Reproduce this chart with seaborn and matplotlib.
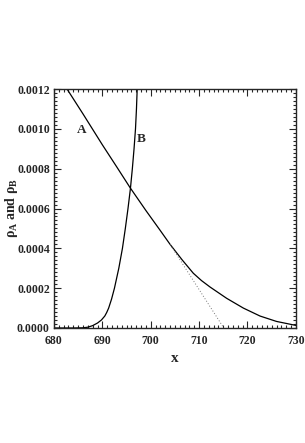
import numpy as np
import pandas as pd
import matplotlib
matplotlib.use("Agg")
import matplotlib.pyplot as plt
from matplotlib.ticker import MultipleLocator, FormatStrFormatter
import seaborn as sns

# curve A
a_x = [682.7, 686, 690, 693, 695.7, 699, 701.9, 704, 706.5, 708.8, 710.5, 712.25,
       715.7, 719.15, 722.6, 726, 730]
a_y = [0.0012, 0.001075, 0.00092, 0.000808, 0.000706, 0.000590, 0.000492, 0.00042, 0.000342,
       0.000275, 0.000238, 0.000206, 0.000149, 0.0001, 0.00006, 0.000033, 0.000013]

# curve B
b_x = [680, 684, 686, 687, 688, 689, 689.8, 690.5, 690.9, 691.3, 691.9, 692.5, 693.4,
       694.15, 694.75, 695.3, 695.8, 696.2, 696.55, 696.85, 697.05, 697.2]
b_y = [0.0, 0.0, 0.000001, 0.000004, 0.000012, 0.000025, 0.00004, 0.00006, 0.000078,
       0.0001, 0.000145, 0.0002, 0.0003, 0.0004, 0.0005, 0.0006, 0.0007, 0.0008,
       0.0009, 0.0010, 0.0011, 0.0012]

# dotted tangent to A
t_x = [704, 715.1]
t_y = [0.00042, 0.0]

sns.set_style("ticks")
plt.rcParams['font.family'] = ['Liberation Serif', 'DejaVu Serif']
plt.rcParams['mathtext.fontset'] = 'custom'
plt.rcParams['mathtext.rm'] = 'Liberation Serif:bold'
plt.rcParams['mathtext.it'] = 'Liberation Serif:bold'
plt.rcParams['mathtext.bf'] = 'Liberation Serif:bold'

fig = plt.figure(figsize=(3.05, 4.43), dpi=100)
ax = fig.add_axes([0.177, 0.2596, 0.793, 0.5394])

dfa = pd.DataFrame({"x": a_x, "y": a_y})
dfb = pd.DataFrame({"x": b_x, "y": b_y})
dft = pd.DataFrame({"x": t_x, "y": t_y})
sns.lineplot(data=dfa, x="x", y="y", ax=ax, color="black", lw=0.9, sort=False)
sns.lineplot(data=dfb, x="x", y="y", ax=ax, color="black", lw=0.9, sort=False)
sns.lineplot(data=dft, x="x", y="y", ax=ax, color="#777777", lw=0.7, linestyle=(0, (1, 2)), sort=False)

ax.set_xlim(680, 730)
ax.set_ylim(0, 0.0012)
ax.xaxis.set_major_locator(MultipleLocator(10))
ax.xaxis.set_minor_locator(MultipleLocator(1))
ax.yaxis.set_major_locator(MultipleLocator(0.0002))
ax.yaxis.set_minor_locator(MultipleLocator(0.00002))
ax.yaxis.set_major_formatter(FormatStrFormatter('%.4f'))
ax.tick_params(which='both', direction='in', top=True, right=True, width=0.8)
ax.tick_params(which='major', length=5, labelsize=8.5, pad=3)
ax.tick_params(axis='x', which='major', pad=5)
ax.tick_params(which='minor', length=2.5)
for lab in ax.get_xticklabels() + ax.get_yticklabels():
    lab.set_fontweight('bold')
for s in ax.spines.values():
    s.set_linewidth(1.0)

ax.set_xlabel("x", fontsize=11, fontweight='bold', labelpad=4)
ax.set_ylabel(r"$\rho_A$ and $\rho_B$", fontsize=10, fontweight='bold')
ax.yaxis.set_label_coords(-0.14, 0.5)

ax.text(685.8, 0.000994, "A", fontsize=9.5, fontweight='bold', ha='center', va='center')
ax.text(698.1, 0.00095, "B", fontsize=9.5, fontweight='bold', ha='center', va='center')

fig.savefig("out.png", dpi=100)
